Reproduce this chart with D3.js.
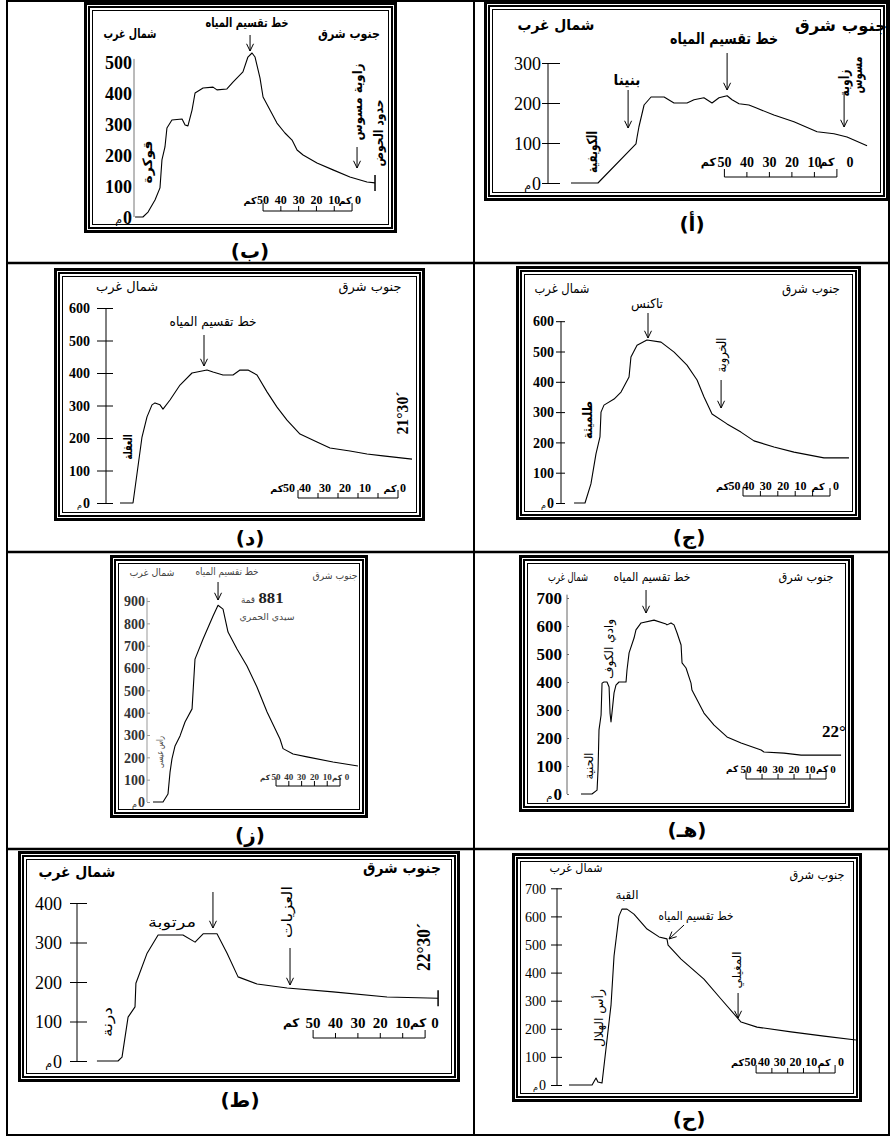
<!DOCTYPE html>
<html><head><meta charset="utf-8">
<script src="https://cdn.jsdelivr.net/npm/d3@7"></script>
<style>body{margin:0;background:#fff}svg{display:block}</style>
</head><body>
<svg id="c" width="891" height="1137"></svg>
<script>
// ---------- DATA (distance km from axis, elevation m) ----------
const bKm   = [0.6,5,7.9,11.8,14.6,15.7,17.4,18.5,21.3,27,28.7,30.3,32.6,34.3,38.8,44.4,46.6,52.2,55.6,61.2,64,66.3,68,70.8,72.5,76.4,80.3,84.8,88.8,91.6,95,102.8,111.8,121.3,130.9,135.4];
const bElev = [0,0,16,55,94,184,226,287,313,316,297,294,345,400,416,419,410,413,435,468,516,529,516,448,387,345,303,271,248,216,200,174,152,129,113,110];
const aKm   = [10.2,22.2,39.1,39.6,40.4,42.7,45.8,51.6,56,61.8,64.9,69.3,72.9,76,79.6,81.8,84.9,89.3,92.4,100.4,109.3,119.6,127.1,132.9,141.8];
const aElev = [0,0,98,115,140,195,215,215,200,200,208,213,200,213,218,208,198,195,188,170,153,128,123,115,93];
const dKm   = [7,13.5,18,20.5,23,24.5,27,28.5,32,37,43,50.5,53.5,58.5,63.5,67,71,75.5,80.5,85.5,90.5,97,105.5,112,122,130.5,138.5,153];
const dElev = [0,0,203,265,302,308,302,289,317,363,400,409,403,394,394,409,409,394,342,295,255,212,188,169,160,151,145,135];
const jKm   = [7.5,13.8,17.2,20.1,22.4,23,24.7,30.5,34.5,39.1,40.2,43.7,49.4,57.5,65,72.4,78.2,82.2,86.8,95.4,103.4,110.9,122.4,133.9,151.1,165.5];
const jElev = [0,0,63,162,218,300,323,343,366,416,482,521,538,531,498,455,406,350,294,261,234,205,185,168,149,149];
const zKm   = [4.7,12.5,16.4,18,19.5,21.9,25.8,29.7,35.2,37.5,43.8,51.6,55.5,59.4,63.3,70.3,78.1,85.9,93.8,103.9,106.3,114.1,125,145.3,164.8];
const zElev = [0,0,36,134,193,251,296,358,417,640,730,833,881,864,761,685,609,515,403,282,239,215,202,179,161];
const hKm   = [8.75,15.6,18.8,19.4,19.7,20,21.3,21.9,23.1,25,26.3,26.9,27.5,28.1,29.4,30.6,32.5,36.9,37.5,38.8,41.9,43.1,46.3,54.4,61.9,62.5,65,66.9,68.8,71.3,71.9,74.4,77.5,78.1,85.6,91.9,100,108.8,121.3,123.1,135.6,146.3,171.3];
const hElev = [0,0,14,86,157,229,282,396,400,400,382,289,257,289,361,389,400,400,443,504,557,586,611,621,607,604,611,604,575,532,468,450,396,371,289,246,204,182,157,150,146,139,139];
const tKm   = [8.9,18.3,20.1,22.8,25.9,26.3,31.3,36.2,47.3,52.7,56.3,62.5,67,71.9,80.4,93.8,114.3,138.4,161.2];
const tElev = [0,0,10,111,137,197,273,319,319,301,322,322,273,213,195,185,175,162,159];
const qKm   = [7.6,22.2,24.7,25.9,28.5,34.2,36.1,39.2,41.1,44.3,48.7,57,64.6,69.6,70.3,78.5,93,103.8,116.5,126.6,148.1,169,189.2];
const qElev = [0,0,25,11,7,285,459,601,626,626,608,555,527,520,498,448,377,306,224,206,189,174,160];

const ticks300 = [0,100,200,300];
const ticks400 = [0,100,200,300,400];
const ticks500 = [0,100,200,300,400,500];
const ticks600 = [0,100,200,300,400,500,600];
const ticks700 = [0,100,200,300,400,500,600,700];
const ticks900 = [0,100,200,300,400,500,600,700,800,900];
const scaleKm  = [0,10,20,30,40,50];
const panelLetters = ["(ب)","(أ)","(د)","(ج)","(ز)","(هـ)","(ط)","(ح)"];

// ---------- LAYOUT ----------
const AR = "'DejaVu Sans','Noto Sans',sans-serif";
const SERIF = "'Liberation Serif','Times New Roman',serif";

const panels = [
 { km:bKm, elev:bElev, ticks:ticks500, letter:panelLetters[0], frame:[84,2,397,233], axisX:134, pxPerKm:1.78, y0:217, pxPerM:0.31,
   axisTop:510, axisColor:"#777", tickL:0, tickR:0, labelR:132, tfs:18, tbold:true,
   sb:{right:122.5, y:211, ly:200, fs:12, shift:0, km0:-7, zero:6, km50:-13}, endTick:true, letterPos:[250,251],
   texts:[
    {t:"شمال غرب",x:130,y:33,fs:13,w:53,bold:true},
    {t:"جنوب شرق",x:349,y:33,fs:13,w:62,bold:true},
    {t:"خط تقسيم المياه",x:247,y:22,fs:13,w:83,bold:true},
    {t:"قوكرة",x:147,y:162,fs:13,w:43,rot:true,bold:true},
    {t:"زاوية مسوس",x:357,y:102,fs:13,w:77,rot:true,bold:true},
    {t:"حدود الحوض",x:378,y:133,fs:13,w:67,rot:true,bold:true}],
   arrows:[{km:65.2,y1:35,y2:51},{km:125.3,y1:147,y2:168}] },
 { km:aKm, elev:aElev, ticks:ticks300, letter:panelLetters[1], frame:[484,1,889,201], axisX:548, pxPerKm:2.25, y0:183, pxPerM:0.4,
   axisTop:300, axisColor:"#000", tickL:6, tickR:12, labelR:541, tfs:18, tbold:false,
   sb:{right:128.4, y:177, ly:162, fs:14, shift:0, km0:-10, zero:13, km50:-16}, letterPos:[692,224],
   texts:[
    {t:"شمال غرب",x:556,y:25,fs:15,w:77,bold:true},
    {t:"جنوب شرق",x:841,y:25,fs:16,w:92,bold:true},
    {t:"خط تقسيم المياه",x:724,y:38,fs:16,w:108,bold:true},
    {t:"بنينا",x:627,y:80,fs:15,w:27,bold:true},
    {t:"زاوية",x:844,y:83,fs:14,w:27,rot:true,bold:true},
    {t:"مسوس",x:857,y:75,fs:14,w:37,rot:true,bold:true},
    {t:"الكويفية",x:592,y:152,fs:14,w:42,rot:true,bold:true}],
   arrows:[{km:79.6,y1:53,y2:90},{km:35.6,y1:90,y2:128},{km:131.6,y1:92,y2:127}] },
 { km:dKm, elev:dElev, ticks:ticks600, letter:panelLetters[2], frame:[54,268,425,521], axisX:106, pxPerKm:2, y0:503, pxPerM:0.325,
   axisTop:600, axisColor:"#000", tickL:9, tickR:7, labelR:90, tfs:14, tbold:true,
   sb:{right:146, y:498, ly:488, fs:12, shift:13, km0:-8, zero:5, km50:-12}, letterPos:[250,538],
   texts:[
    {t:"شمال غرب",x:127,y:286,fs:13,w:62},
    {t:"جنوب شرق",x:370,y:286,fs:13,w:63},
    {t:"خط تقسيم المياه",x:213,y:321,fs:13,w:87},
    {t:"العقلة",x:128,y:447,fs:12,w:25,rot:true,bold:true},
    {t:"21°30´",x:402,y:413,fs:17,w:43,rot:true,bold:true,serif:true}],
   arrows:[{km:49,y1:335,y2:366}] },
 { km:jKm, elev:jElev, ticks:ticks600, letter:panelLetters[3], frame:[516,266,861,520], axisX:561, pxPerKm:1.74, y0:503, pxPerM:0.303,
   axisTop:600, axisColor:"#000", tickL:5, tickR:4, labelR:554, tfs:14, tbold:true,
   sb:{right:154.6, y:496, ly:486, fs:12, shift:12, km0:-12, zero:6, km50:-12}, letterPos:[689,537],
   texts:[
    {t:"شمال غرب",x:562,y:288,fs:13,w:55},
    {t:"جنوب شرق",x:811,y:288,fs:13,w:58},
    {t:"تاكنس",x:647,y:303,fs:13,w:32},
    {t:"الخروبة",x:721,y:355,fs:13,w:35,rot:true},
    {t:"طلميثة",x:587,y:420,fs:13,w:38,rot:true,bold:true}],
   arrows:[{km:50,y1:313,y2:338},{km:92,y1:380,y2:408}] },
 { km:zKm, elev:zElev, ticks:ticks900, letter:panelLetters[4], frame:[110,555,368,818], axisX:147, pxPerKm:1.28, y0:802, pxPerM:0.2233,
   axisTop:915, axisColor:"#999", tickL:0, tickR:3, labelR:145, tfs:14, tbold:true, tcolor:"#333",
   sb:{right:150.8, y:786, ly:777, fs:9, shift:0, km0:-3, zero:7, km50:-11}, letterPos:[250,835],
   texts:[
    {t:"شمال غرب",x:152,y:572,fs:10,w:45,color:"#444"},
    {t:"خط تقسيم المياه",x:227,y:571,fs:10,w:63,color:"#444"},
    {t:"جنوب شرق",x:335,y:575,fs:10,w:45,color:"#444"},
    {t:"قمة",x:248,y:599,fs:10,w:14,color:"#444"},
    {t:"881",x:271,y:598,fs:15,w:25,bold:true,serif:true,color:"#222"},
    {t:"سيدي الحمري",x:267,y:617,fs:9,w:55,color:"#444"},
    {t:"راس عيسى",x:160,y:752,fs:9,w:32,rot:true,color:"#444"}],
   arrows:[{km:55.5,y1:582,y2:600}] },
 { km:hKm, elev:hElev, ticks:ticks700, letter:panelLetters[5], frame:[519,555,854,812], axisX:567, pxPerKm:1.6, y0:794, pxPerM:0.28,
   axisTop:712, axisColor:"#666", tickL:0, tickR:2, labelR:562, tfs:17, tbold:true,
   sb:{right:161.9, y:779, ly:769, fs:11, shift:0, km0:-4, zero:7, km50:-14}, letterPos:[687,830],
   texts:[
    {t:"شمال غرب",x:568,y:577,fs:12,w:40},
    {t:"خط تقسيم المياه",x:652,y:577,fs:12,w:77},
    {t:"جنوب شرق",x:806,y:577,fs:12,w:55},
    {t:"وادي الكوف",x:609,y:649,fs:12,w:60,rot:true},
    {t:"الحنية",x:589,y:766,fs:12,w:27,rot:true},
    {t:"22°",x:834,y:731,fs:17,bold:true,serif:true}],
   arrows:[{km:49.4,y1:590,y2:613}] },
 { km:tKm, elev:tElev, ticks:ticks400, letter:panelLetters[6], frame:[18,851,460,1082], axisX:77, pxPerKm:2.24, y0:1061, pxPerM:0.395,
   axisTop:400, axisColor:"#000", tickL:7, tickR:10, labelR:62, tfs:18, tbold:false,
   sb:{right:155.4, y:1038, ly:1023, fs:15, shift:0, km0:-7, zero:10, km50:-22}, endTick:true, letterPos:[240,1100],
   texts:[
    {t:"شمال غرب",x:77,y:872,fs:15,w:77,bold:true},
    {t:"جنوب شرق",x:402,y:868,fs:15,w:78,bold:true},
    {t:"مرتوبة",x:172,y:922,fs:14,w:48},
    {t:"العزيات",x:287,y:912,fs:14,w:52,rot:true},
    {t:"درنة",x:107,y:1022,fs:14,w:30,rot:true},
    {t:"22°30´",x:423,y:947,fs:19,w:48,rot:true,bold:true,serif:true}],
   arrows:[{km:60.7,y1:892,y2:928},{km:95.1,y1:948,y2:985}] },
 { km:qKm, elev:qElev, ticks:ticks700, letter:panelLetters[7], frame:[512,853,862,1102], axisX:557, pxPerKm:1.58, y0:1085, pxPerM:0.281,
   axisTop:700, axisColor:"#000", tickL:6, tickR:5, labelR:546, tfs:14, tbold:false,
   sb:{right:176, y:1073, ly:1062, fs:12, shift:8, km0:-11, zero:6, km50:-13}, letterPos:[689,1119],
   texts:[
    {t:"شمال غرب",x:576,y:868,fs:12,w:53},
    {t:"جنوب شرق",x:817,y:875,fs:12,w:55},
    {t:"القبة",x:627,y:895,fs:12,w:23},
    {t:"خط تقسيم المياه",x:696,y:916,fs:12,w:75},
    {t:"المغيلي",x:737,y:970,fs:12,w:37,rot:true},
    {t:"رأس الهلال",x:599,y:1018,fs:12,w:58,rot:true}],
   arrows:[{km:80.4,y1:925,km2:70.9,y2:939},{km:114.6,y1:993,y2:1018}] }
];

// ---------- DRAW ----------
const svg = d3.select("#c");
svg.append("rect").attr("width",891).attr("height",1137).attr("fill","#fff");

const tbl = svg.append("g").attr("stroke","#000").attr("fill","none");
tbl.append("rect").attr("x",7).attr("y",1).attr("width",882).attr("height",1134).attr("stroke-width",2);
tbl.append("line").attr("x1",474).attr("x2",474).attr("y1",1).attr("y2",1135).attr("stroke-width",2);
[263,552,849].forEach(yy=>tbl.append("line").attr("x1",7).attr("x2",889).attr("y1",yy).attr("y2",yy).attr("stroke-width",2.5));

function frame(g,[x0,y0,x1,y1]){
  [[1.5,3],[5,2],[8.5,1]].forEach(([ins,sw])=>{
    g.append("rect").attr("x",x0+ins).attr("y",y0+ins).attr("width",x1-x0-2*ins).attr("height",y1-y0-2*ins)
     .attr("fill","none").attr("stroke","#000").attr("stroke-width",sw);
  });
}
function label(g,o){
  const t=g.append("text")
    .attr("transform",`translate(${o.x},${o.y})`+(o.rot?" rotate(-90)":""))
    .attr("text-anchor","middle").attr("dominant-baseline","central")
    .attr("font-family",o.serif?SERIF:AR).attr("font-size",o.fs)
    .attr("font-weight",o.bold?"bold":"normal").attr("fill",o.color||"#000").text(o.t);
  if(o.w) t.attr("textLength",o.w).attr("lengthAdjust","spacingAndGlyphs");
  return t;
}
function arrow(g,x1,y1,x2,y2){
  const ang=Math.atan2(y2-y1,x2-x1),L=8,a=0.45;
  g.append("line").attr("x1",x1).attr("y1",y1).attr("x2",x2).attr("y2",y2).attr("stroke","#000").attr("stroke-width",1);
  g.append("path").attr("d",`M${x2-L*Math.cos(ang-a)},${y2-L*Math.sin(ang-a)}L${x2},${y2}L${x2-L*Math.cos(ang+a)},${y2-L*Math.sin(ang+a)}`)
   .attr("fill","none").attr("stroke","#000").attr("stroke-width",1);
}

panels.forEach(p=>{
  const g=svg.append("g");
  frame(g,p.frame);
  const x=d3.scaleLinear().domain([0,100]).range([p.axisX,p.axisX+100*p.pxPerKm]);
  const y=d3.scaleLinear().domain([0,100]).range([p.y0,p.y0-100*p.pxPerM]);
  const col=p.tcolor||"#000";

  // y axis
  const axis=d3.axisLeft(y).tickValues(p.ticks).tickSizeOuter(0).tickSizeInner(Math.max(p.tickL,0)).tickFormat(d=>d);
  const ag=g.append("g").attr("transform",`translate(${p.axisX},0)`).call(axis);
  ag.attr("font-family",SERIF).attr("font-size",p.tfs);
  ag.select(".domain").attr("stroke",p.axisColor).attr("stroke-width",1).attr("d",`M0,${y(p.axisTop)}V${y(0)}`);
  ag.selectAll(".tick line").attr("x1",p.tickR).attr("x2",-p.tickL).attr("stroke",p.axisColor);
  ag.selectAll(".tick text").attr("x",p.labelR-p.axisX).attr("dy","0.34em").attr("text-anchor","end")
    .attr("font-weight",p.tbold?"bold":"normal").attr("fill",col);
  g.append("text").attr("x",p.labelR-0.5*p.tfs-1).attr("y",y(0)+2).attr("text-anchor","end")
   .attr("dominant-baseline","central").attr("font-family",AR).attr("font-size",Math.round(p.tfs*0.6))
   .attr("fill",col).text("م");

  // profile
  g.append("path").datum(d3.zip(p.km,p.elev))
   .attr("d",d3.line().x(d=>x(d[0])).y(d=>y(d[1])))
   .attr("fill","none").attr("stroke","#000").attr("stroke-width",1.1).attr("stroke-linejoin","round");
  if(p.endTick){
    const lx=x(p.km[p.km.length-1]), ly=y(p.elev[p.elev.length-1]);
    g.append("line").attr("x1",lx).attr("x2",lx).attr("y1",ly-8).attr("y2",ly+8).attr("stroke","#000").attr("stroke-width",1.5);
  }

  // scale bar (0 at right, 50 km at left)
  const s=p.sb, R=x(s.right), u=p.pxPerKm, sx=v=>R-v*u;
  const sg=g.append("g");
  sg.append("line").attr("x1",sx(50)).attr("x2",sx(0)).attr("y1",s.y).attr("y2",s.y).attr("stroke","#000");
  const num=(xx,t,fam,fs)=>sg.append("text").attr("x",xx).attr("y",s.ly).attr("text-anchor","middle").attr("dominant-baseline","central")
      .attr("font-family",fam).attr("font-weight","bold").attr("font-size",fs).attr("fill",col).text(t);
  scaleKm.forEach(v=>{
    const h=(v===0||v===50)?8:5;
    sg.append("line").attr("x1",sx(v)).attr("x2",sx(v)).attr("y1",s.y).attr("y2",s.y-h).attr("stroke","#000");
    if(v>0) num(sx(v)-s.shift*(v===50?0.7:1),v,SERIF,s.fs);
  });
  num(R+s.zero,"0",SERIF,s.fs);
  num(R+s.km0,"كم",AR,s.fs*0.8);
  num(sx(50)-s.shift*0.7+s.km50,"كم",AR,s.fs*0.8);

  // annotations
  p.texts.forEach(o=>label(g,o));
  p.arrows.forEach(a=>arrow(g,x(a.km),a.y1,x(a.km2!==undefined?a.km2:a.km),a.y2));

  label(svg,{t:p.letter,x:p.letterPos[0],y:p.letterPos[1],fs:20,bold:true});
});
</script>
</body></html>
